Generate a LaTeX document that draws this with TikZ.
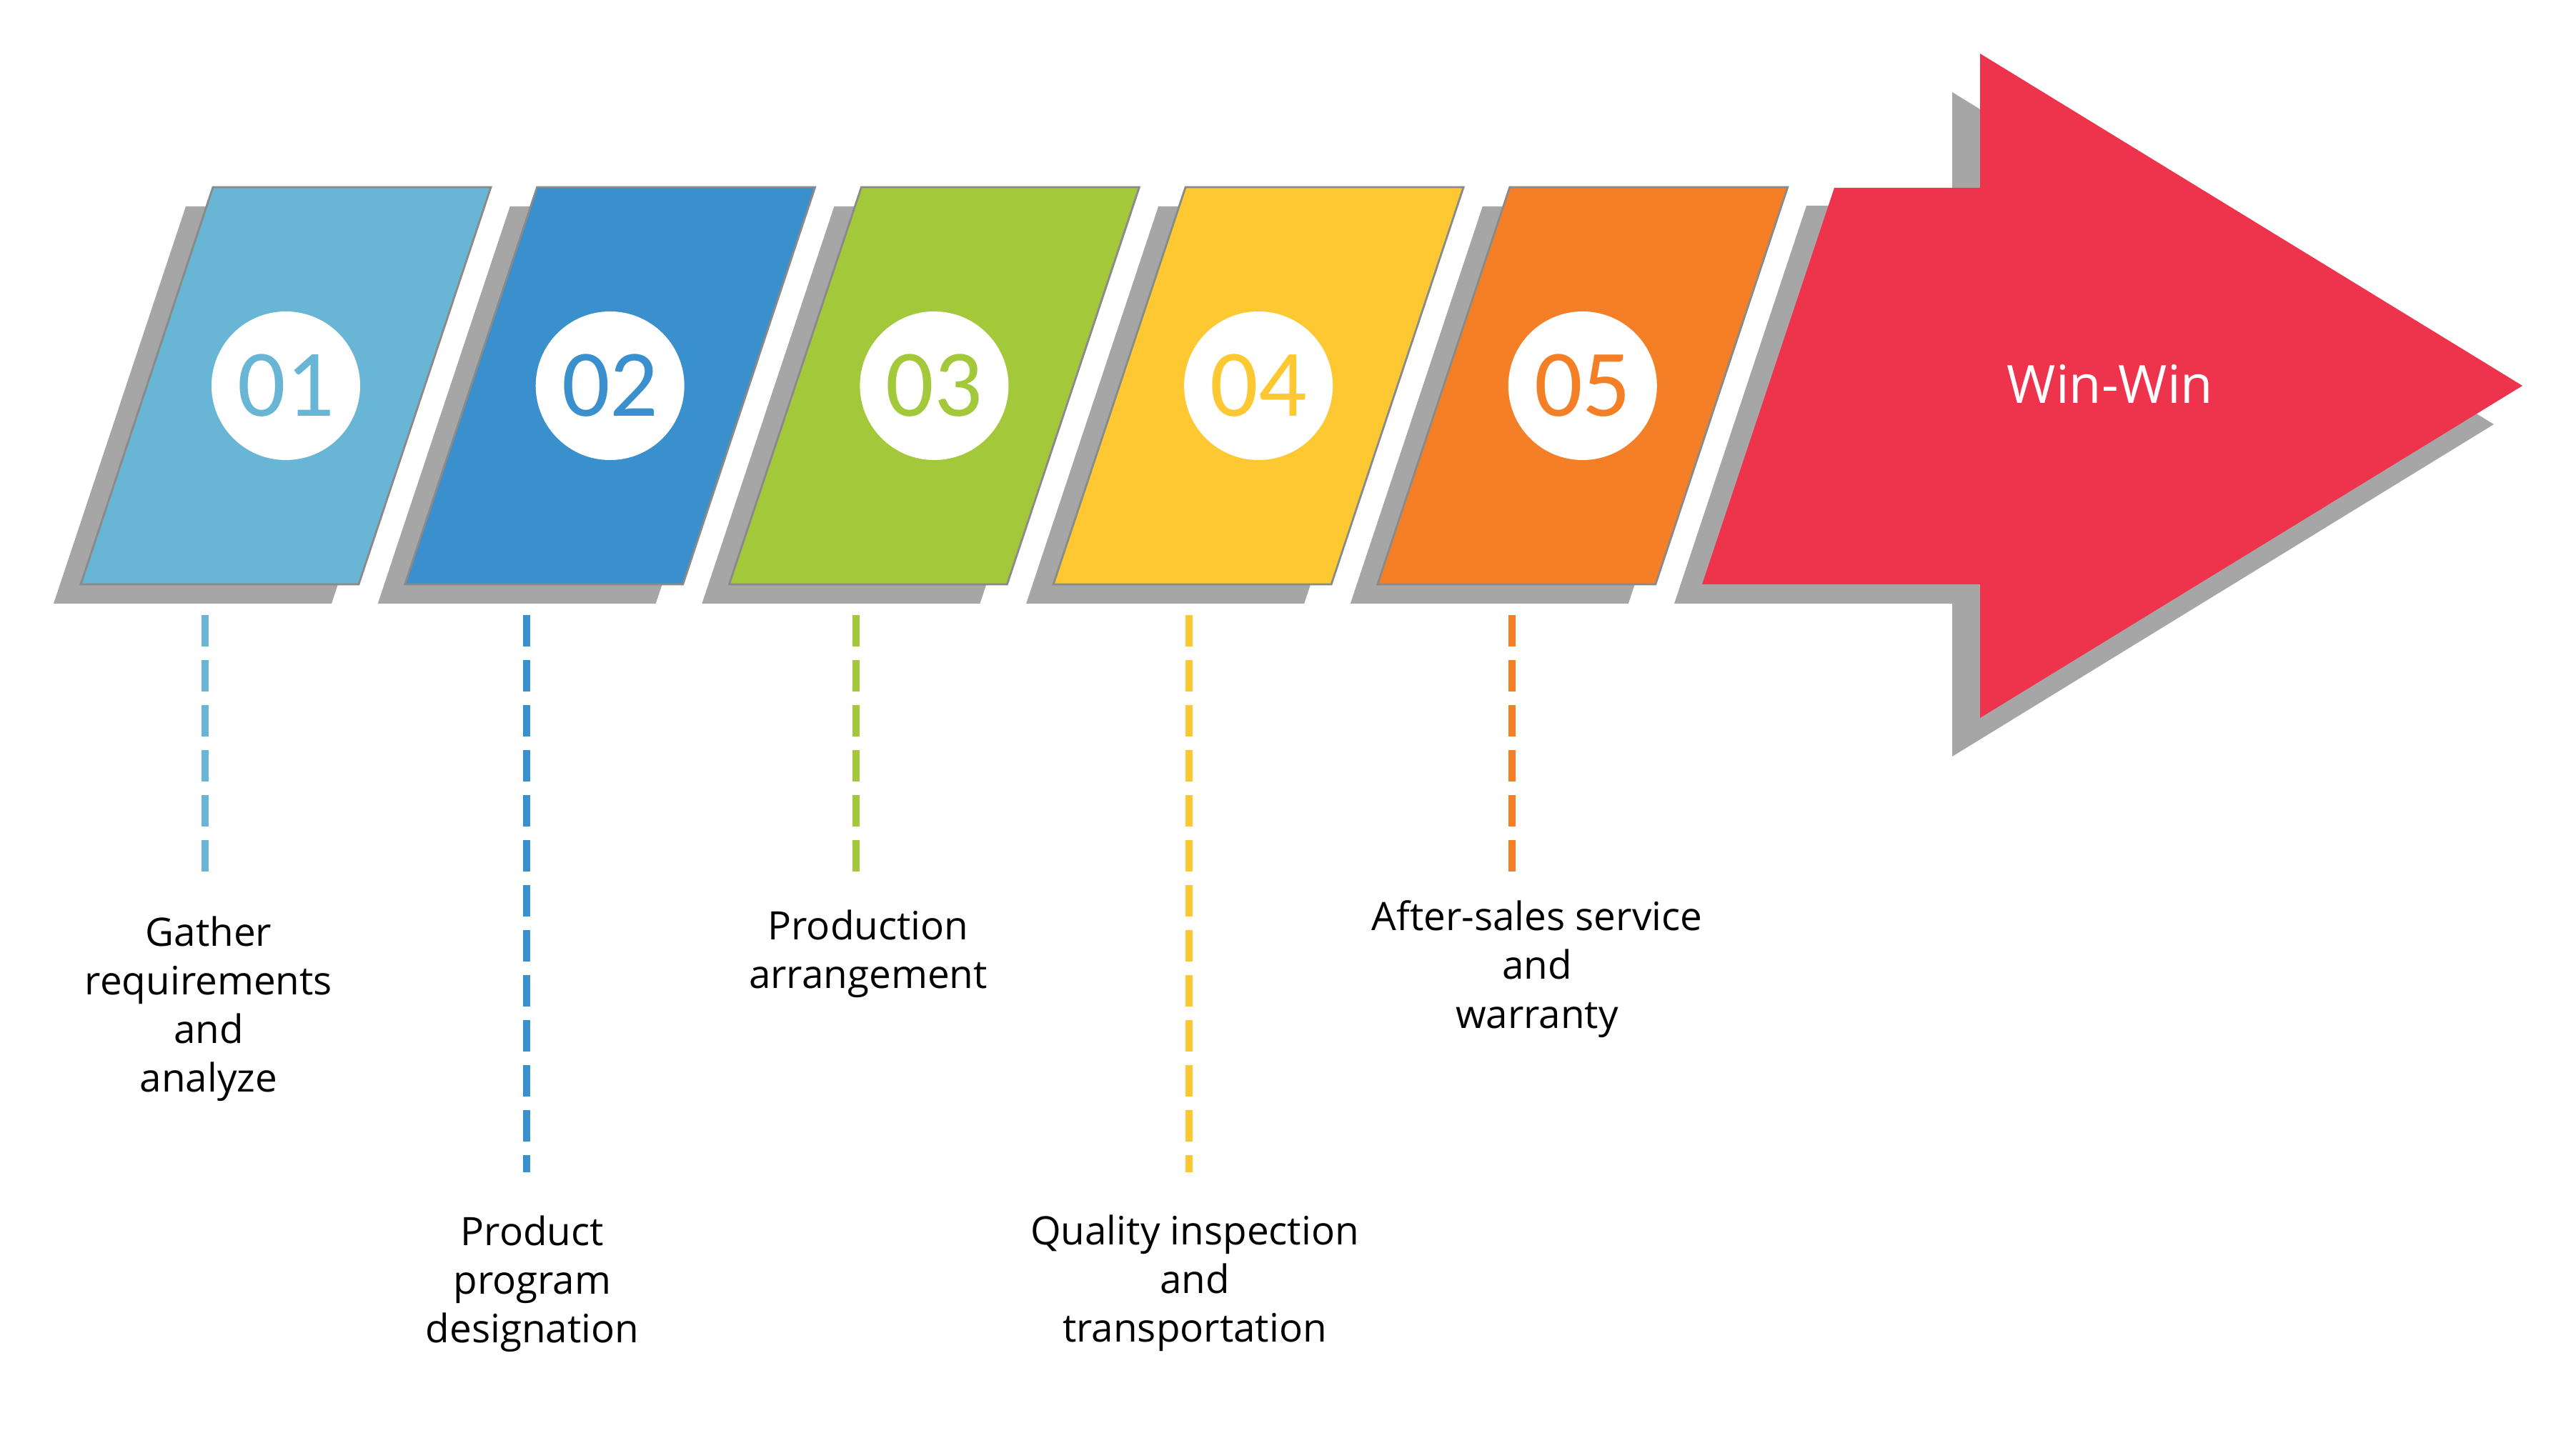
\documentclass[tikz,border=0pt]{standalone}
\usepackage{fontspec}
\setmainfont{Open Sans}
\newfontfamily\numfont{Carlito}
\usetikzlibrary{calc}
\definecolor{stepA}{HTML}{69B5D5}
\definecolor{stepB}{HTML}{3A90CD}
\definecolor{stepC}{HTML}{A3C83A}
\definecolor{stepD}{HTML}{FEC832}
\definecolor{stepE}{HTML}{F47F26}
\definecolor{winred}{HTML}{EE344C}
\definecolor{shadowgrey}{HTML}{A6A6A6}
\definecolor{edgegrey}{HTML}{8A8A8A}
\tikzset{
	blockline/.style={draw=edgegrey, line width=0.8pt},
	numcircle/.style={circle, fill=white, minimum size=2.08cm, inner sep=0pt, font=\numfont\fontsize{38}{38}\selectfont},
	dashline/.style={line width=2.6pt, dash pattern=on 0.44cm off 0.19cm},
	steptext/.style={anchor=north, align=center, inner sep=0pt, font=\fontsize{15.6}{19.4}\selectfont},
}
% #1 bottom-left x, #2 colour, #3 number, #4 node name
\def\stepblock#1#2#3#4{%
	\fill[shadowgrey] (#1-0.38,11.81) -- ++(3.89,0) -- ++(1.85,5.56) -- ++(-3.89,0) -- cycle;
	\draw[blockline, fill=#2] (#1,12.08) -- ++(3.89,0) -- ++(1.85,5.56) -- ++(-3.89,0) -- cycle;
	\node[numcircle, text=#2] (#4) at (#1+2.87,14.86) {#3};
}

\begin{document}
\begin{tikzpicture}
		%%%%% START %%%%%
		\useasboundingbox (0,0) rectangle (36.05,20.26);
		\fill[white] (0,0) rectangle (36.05,20.26);
		
		\stepblock{1.13}{stepA}{01}{num1}
		\stepblock{5.667}{stepB}{02}{num2}
		\stepblock{10.204}{stepC}{03}{num3}
		\stepblock{14.741}{stepD}{04}{num4}
		\stepblock{19.278}{stepE}{05}{num5}
		
		% big arrow
		\fill[shadowgrey] (23.43,11.81) -- (25.28,17.38) -- (27.32,17.38) -- (27.32,18.97) -- (34.90,14.32) -- (27.32,9.67) -- (27.32,11.81) -- cycle;
		\fill[winred] (23.82,12.08) -- (25.67,17.63) -- (27.71,17.63) -- (27.71,19.51) -- (35.30,14.86) -- (27.71,10.21) -- (27.71,12.08) -- cycle;
		\node[text=white, anchor=base, inner sep=0pt, font=\fontsize{21}{25}\selectfont] (win) at (29.53,14.61) {Win-Win};
		
		% dashed leaders
		\coordinate (d1a) at (2.87,11.65);
		\coordinate (d1b) at (2.87,8.04);
		\coordinate (d2a) at (7.37,11.65);
		\coordinate (d2b) at (7.37,3.85);
		\coordinate (d3a) at (11.98,11.65);
		\coordinate (d3b) at (11.98,8.04);
		\coordinate (d4a) at (16.64,11.65);
		\coordinate (d4b) at (16.64,3.85);
		\coordinate (d5a) at (21.16,11.65);
		\coordinate (d5b) at (21.16,8.04);
		\draw[dashline, stepA] (d1a) -- (d1b);
		\draw[dashline, stepB] (d2a) -- (d2b);
		\draw[dashline, stepC] (d3a) -- (d3b);
		\draw[dashline, stepD] (d4a) -- (d4b);
		\draw[dashline, stepE] (d5a) -- (d5b);
		
		% texts
		\node[steptext] (text1) at (2.92,7.44) {Gather\\requirements\\and\\analyze};
		\node[steptext] (text2) at (7.45,3.25) {Product\\program\\designation};
		\node[steptext] (text3) at (12.15,7.53) {Production\\arrangement};
		\node[steptext] (text4) at (16.72,3.26) {Quality inspection\\and\\transportation};
		\node[steptext] (text5) at (21.51,7.66) {After-sales service\\and\\warranty};
		
		%%%%% END %%%%%
	\end{tikzpicture}
\end{document}
